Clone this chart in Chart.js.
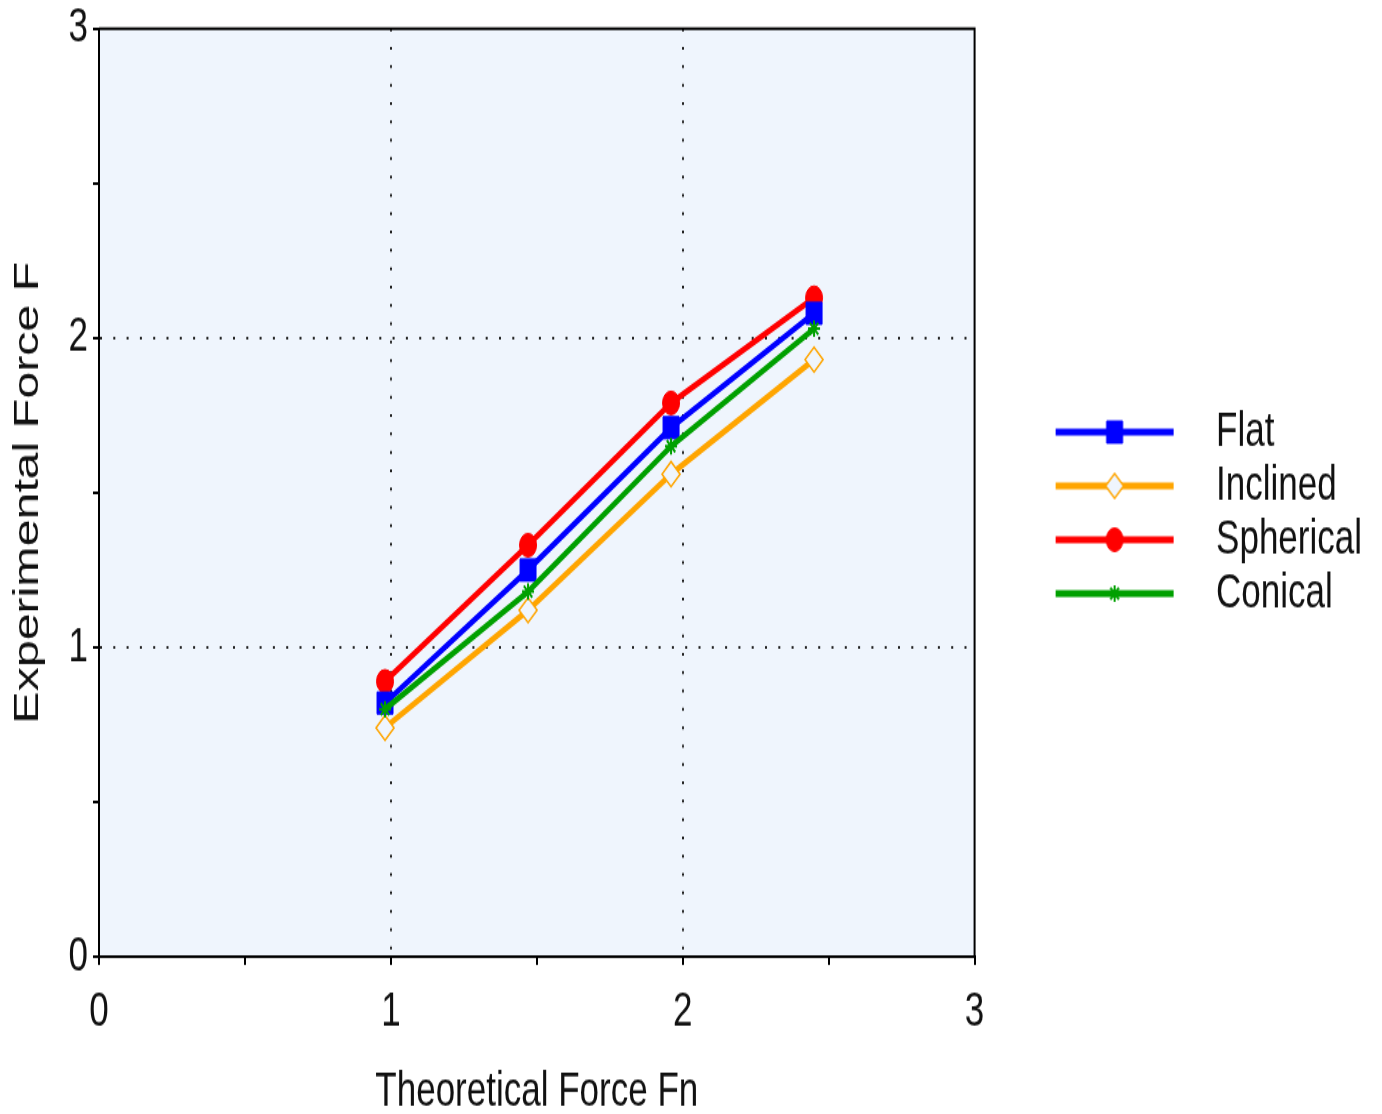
<!DOCTYPE html>
<html>
<head>
<meta charset="utf-8">
<title>Experimental vs theoretical force</title>
<script src="https://cdn.jsdelivr.net/npm/chart.js@4.4.1/dist/chart.umd.min.js"></script>
<style>
  html, body { margin: 0; padding: 0; background: #fff; overflow: hidden; }
</style>
</head>
<body>
<!-- drawn at 807px tall, then stretched to the page height -->
<canvas id="forceChart" width="1382" height="807" style="display:block;width:1382px;height:1114px"></canvas>
<script>
// ---- data ----
const theoreticalForce = [0.98, 1.47, 1.96, 2.45];
const flatForce      = [0.82, 1.25, 1.71, 2.08];
const inclinedForce  = [0.74, 1.12, 1.56, 1.93];
const sphericalForce = [0.89, 1.33, 1.79, 2.13];
const conicalForce   = [0.80, 1.18, 1.65, 2.03];

const majorTicks = [0, 1, 2, 3];

const FONT = "'Liberation Sans', Arial, sans-serif";
const PLOT_BG = '#eff5fd';
const TEXT = '#111';

const toPoints = ys => ys.map((y, i) => ({ x: theoreticalForce[i], y }));

// dotted grid only on interior whole numbers
const gridColor = ctx => {
    const v = ctx.tick ? ctx.tick.value : null;
    return (v > 0 && v < 3 && Number.isInteger(v)) ? '#222' : 'rgba(0,0,0,0)';
};
const tickLabel = v => majorTicks.includes(v) ? String(v) : '';

const axisCommon = {
    type: 'linear',
    min: 0,
    max: 3,
    grid: {
        color: gridColor,
        lineWidth: 2,
        drawTicks: true,
        tickLength: 6,
        tickWidth: 2,
        tickColor: '#000'
    },
    border: { display: true, color: '#000', width: 2, dash: [2, 11.3] }
};

// plot background + top/right frame
const plotFrame = {
    id: 'plotFrame',
    beforeDraw(chart) {
        const { ctx, chartArea: a } = chart;
        ctx.save();
        ctx.fillStyle = PLOT_BG;
        ctx.fillRect(a.left, a.top, a.right - a.left, a.bottom - a.top);
        ctx.restore();
    },
    afterDraw(chart) {
        const { ctx, chartArea: a } = chart;
        ctx.save();
        ctx.strokeStyle = '#000';
        ctx.lineWidth = 2;
        ctx.beginPath();
        ctx.moveTo(a.left, a.top);
        ctx.lineTo(a.right, a.top);
        ctx.lineTo(a.right, a.bottom);
        ctx.stroke();
        ctx.restore();
    }
};

// legend swatch: a short line with the series marker on it
const SWATCH_W = 220;
const legendSwatch = ds => {
    const c = document.createElement('canvas');
    c.width = SWATCH_W;
    c.height = 30;
    const g = c.getContext('2d');
    g.strokeStyle = ds.borderColor;
    g.lineWidth = 5;
    g.beginPath();
    g.moveTo(77, 15);
    g.lineTo(195, 15);
    g.stroke();
    g.fillStyle = ds.pointBackgroundColor || ds.borderColor;
    g.strokeStyle = ds.borderColor;
    g.lineWidth = ds.pointBorderWidth;
    Chart.helpers.drawPoint(g, {
        pointStyle: ds.pointStyle,
        radius: ds.pointRadius,
        borderWidth: ds.pointBorderWidth,
        rotation: 0
    }, 136, 15);
    return c;
};

const datasets = [
    {
        label: 'Flat',
        data: toPoints(flatForce),
        borderColor: '#0000ff',
        backgroundColor: '#0000ff',
        pointBackgroundColor: '#0000ff',
        pointStyle: 'rect',
        pointRadius: 11.3,
        pointBorderWidth: 1,
        order: 1
    },
    {
        label: 'Inclined',
        data: toPoints(inclinedForce),
        borderColor: '#ffa500',
        backgroundColor: PLOT_BG,
        pointBackgroundColor: PLOT_BG,
        pointStyle: 'rectRot',
        pointRadius: 9,
        pointBorderWidth: 1.5,
        order: 2
    },
    {
        label: 'Spherical',
        data: toPoints(sphericalForce),
        borderColor: '#ff0000',
        backgroundColor: '#ff0000',
        pointBackgroundColor: '#ff0000',
        pointStyle: 'circle',
        pointRadius: 8.5,
        pointBorderWidth: 1,
        order: 3
    },
    {
        label: 'Conical',
        data: toPoints(conicalForce),
        borderColor: '#00a000',
        backgroundColor: '#00a000',
        pointBackgroundColor: '#00a000',
        pointStyle: 'star',
        pointRadius: 6,
        pointBorderWidth: 2,
        order: 0
    }
].map(ds => Object.assign({ showLine: true, borderWidth: 4.5, tension: 0, pointHoverRadius: ds.pointRadius }, ds));

new Chart(document.getElementById('forceChart'), {
    type: 'scatter',
    data: { datasets },
    options: {
        responsive: false,
        devicePixelRatio: 1,
        animation: false,
        events: [],
        layout: { padding: { left: 0, right: 10, top: 0, bottom: 0 } },
        plugins: {
            tooltip: { enabled: false },
            legend: {
                position: 'right',
                align: 'center',
                fullSize: false,
                maxWidth: 430,
                title: { display: true, text: ' ', font: { size: 1 }, padding: 14 },
                labels: {
                    usePointStyle: true,
                    pointStyleWidth: SWATCH_W,
                    padding: 4,
                    color: TEXT,
                    font: { family: FONT, size: 35 },
                    generateLabels: chart => chart.data.datasets.map((ds, i) => ({
                        text: ds.label,
                        pointStyle: legendSwatch(ds),
                        fillStyle: 'rgba(0,0,0,0)',
                        strokeStyle: 'rgba(0,0,0,0)',
                        lineWidth: 0,
                        fontColor: TEXT,
                        hidden: false,
                        datasetIndex: i
                    }))
                }
            }
        },
        scales: {
            x: {
                ...axisCommon,
                position: 'bottom',
                afterFit: scale => { scale.height = 114; },
                ticks: {
                    stepSize: 0.5,
                    autoSkip: false,
                    maxRotation: 0,
                    padding: 13,
                    color: TEXT,
                    font: { family: FONT, size: 35 },
                    callback: tickLabel
                },
                title: {
                    display: true,
                    text: 'Theoretical Force Fn',
                    color: TEXT,
                    font: { family: FONT, size: 35, lineHeight: 0.9 },
                    padding: { top: 0, bottom: 0 }
                }
            },
            y: {
                ...axisCommon,
                position: 'left',
                afterFit: scale => { scale.width = 99; },
                ticks: {
                    stepSize: 0.5,
                    autoSkip: false,
                    padding: 5,
                    color: TEXT,
                    font: { family: FONT, size: 35, lineHeight: 0.9 },
                    callback: tickLabel
                },
                title: {
                    display: true,
                    text: 'Experimental Force F',
                    color: TEXT,
                    font: { family: FONT, size: 35 },
                    padding: { top: 7, bottom: 0 }
                }
            }
        }
    },
    plugins: [plotFrame]
});
</script>
</body>
</html>
